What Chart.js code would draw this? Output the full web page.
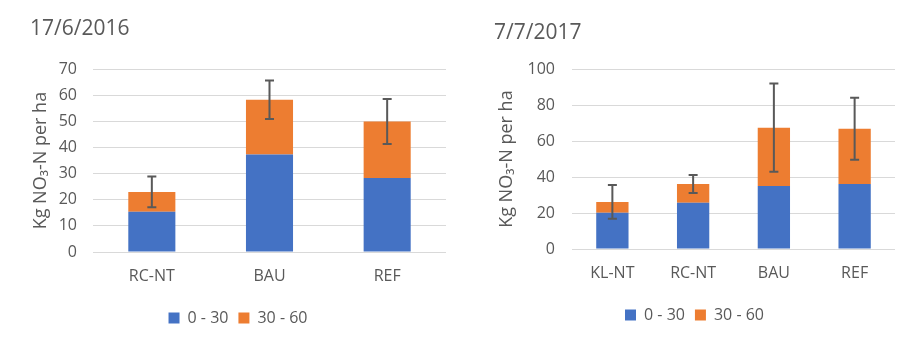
<!DOCTYPE html>
<html>
<head>
<meta charset="utf-8">
<script src="https://cdn.jsdelivr.net/npm/chart.js@4.4.0/dist/chart.umd.min.js"></script>
<style>
  html, body { margin: 0; padding: 0; background: #ffffff; }
  #wrap { position: relative; width: 918px; height: 348px; overflow: hidden; }
  .panel { position: absolute; top: 0; height: 348px; }
  #p1 { left: 0; width: 459px; }
  #p2 { left: 460px; width: 458px; }
</style>
</head>
<body>
<div id="wrap">
  <div class="panel" id="p1"><canvas id="c1" width="459" height="348"></canvas></div>
  <div class="panel" id="p2"><canvas id="c2" width="458" height="348"></canvas></div>
</div>
<script>
// ---- Data ----
const title2016 = '17/6/2016';
const categories2016 = ['RC-NT', 'BAU', 'REF'];
const layer0to30_2016 = [15.4, 37.3, 28.3];
const layer30to60_2016 = [7.6, 21.0, 21.7];
const error2016 = [5.9, 7.4, 8.6];
const ticks2016 = { max: 70, step: 10 };

const title2017 = '7/7/2017';
const categories2017 = ['KL-NT', 'RC-NT', 'BAU', 'REF'];
const layer0to30_2017 = [20.2, 25.7, 35.0, 36.1];
const layer30to60_2017 = [6.0, 10.4, 32.5, 30.8];
const error2017 = [9.4, 5.0, 24.6, 17.2];
const ticks2017 = { max: 100, step: 20 };

const seriesNames = ['0 - 30', '30 - 60'];
const yAxisTitle = 'Kg NO\u2083-N per ha';

// ---- Styles ----
const FONT = "'Open Sans', 'Noto Sans', sans-serif";
const TEXT = '#595959';
const GRID = '#D9D9D9';
const BLUE = '#4472C4';
const ORANGE = '#ED7D31';
const ERR = '#595959';

const errorBarPlugin = {
  id: 'errorBars',
  afterDatasetsDraw(chart, args, opts) {
    const { ctx } = chart;
    const x = chart.scales.x, y = chart.scales.y;
    const a = opts.lower, b = opts.upper, e = opts.errors;
    ctx.save();
    ctx.strokeStyle = ERR;
    ctx.lineWidth = 2;
    for (let i = 0; i < e.length; i++) {
      const total = a[i] + b[i];
      const px = x.getPixelForValue(i);
      const yTop = y.getPixelForValue(total + e[i]);
      const yBot = y.getPixelForValue(total - e[i]);
      ctx.beginPath();
      ctx.moveTo(px, yTop); ctx.lineTo(px, yBot);
      ctx.moveTo(px - 4.5, yTop); ctx.lineTo(px + 4.5, yTop);
      ctx.moveTo(px - 4.5, yBot); ctx.lineTo(px + 4.5, yBot);
      ctx.stroke();
    }
    ctx.restore();
  }
};

function makeChart(canvasId, cfg) {
  return new Chart(document.getElementById(canvasId), {
    type: 'bar',
    data: {
      labels: cfg.categories,
      datasets: [
        { label: seriesNames[0], data: cfg.lower, backgroundColor: BLUE, borderWidth: 0,
          barPercentage: 0.4, categoryPercentage: 1.0 },
        { label: seriesNames[1], data: cfg.upper, backgroundColor: ORANGE, borderWidth: 0,
          barPercentage: 0.4, categoryPercentage: 1.0 }
      ]
    },
    options: {
      responsive: false,
      animation: false,
      devicePixelRatio: 1,
      layout: { padding: { left: cfg.padLeft, right: cfg.padRight, top: 0, bottom: cfg.padBottom } },
      plugins: {
        title: {
          display: true, text: cfg.title, align: 'start', color: TEXT,
          font: { family: FONT, size: 21, weight: 'normal' },
          padding: { top: cfg.titleTop, bottom: cfg.titleBottom }
        },
        legend: {
          position: 'bottom',
          labels: {
            color: TEXT, boxWidth: 11, boxHeight: 11, padding: 10,
            font: { family: FONT, size: 16 }
          }
        },
        tooltip: { enabled: false },
        errorBars: { lower: cfg.lower, upper: cfg.upper, errors: cfg.errors }
      },
      scales: {
        x: {
          stacked: true,
          grid: { display: false, drawTicks: false },
          border: { display: false },
          ticks: { color: TEXT, font: { family: FONT, size: 16 }, padding: 15, maxRotation: 0 },
          afterFit(scale) { scale.height = 48; }
        },
        y: {
          stacked: true,
          min: 0, max: cfg.ticks.max,
          grid: { color: GRID, lineWidth: 1, drawTicks: false },
          border: { display: false },
          ticks: { stepSize: cfg.ticks.step, color: TEXT, font: { family: FONT, size: 16 }, padding: cfg.tickPad },
          title: {
            display: true, text: yAxisTitle, color: TEXT,
            font: { family: FONT, size: 18 },
            padding: { top: cfg.axisTitlePad, bottom: 0 }
          },
          afterFit(scale) { scale.width = cfg.yWidth; }
        }
      }
    },
    plugins: [errorBarPlugin]
  });
}

makeChart('c1', {
  title: title2016, categories: categories2016,
  lower: layer0to30_2016, upper: layer30to60_2016, errors: error2016, ticks: ticks2016,
  padLeft: 30, padRight: 13, padBottom: 12, titleTop: 16, titleBottom: 28,
  yWidth: 63, tickPad: 16, axisTitlePad: 0
});

makeChart('c2', {
  title: title2017, categories: categories2017,
  lower: layer0to30_2017, upper: layer30to60_2017, errors: error2017, ticks: ticks2017,
  padLeft: 34, padRight: 23, padBottom: 15, titleTop: 20, titleBottom: 24,
  yWidth: 78, tickPad: 17, axisTitlePad: 2
});
</script>
</body>
</html>
